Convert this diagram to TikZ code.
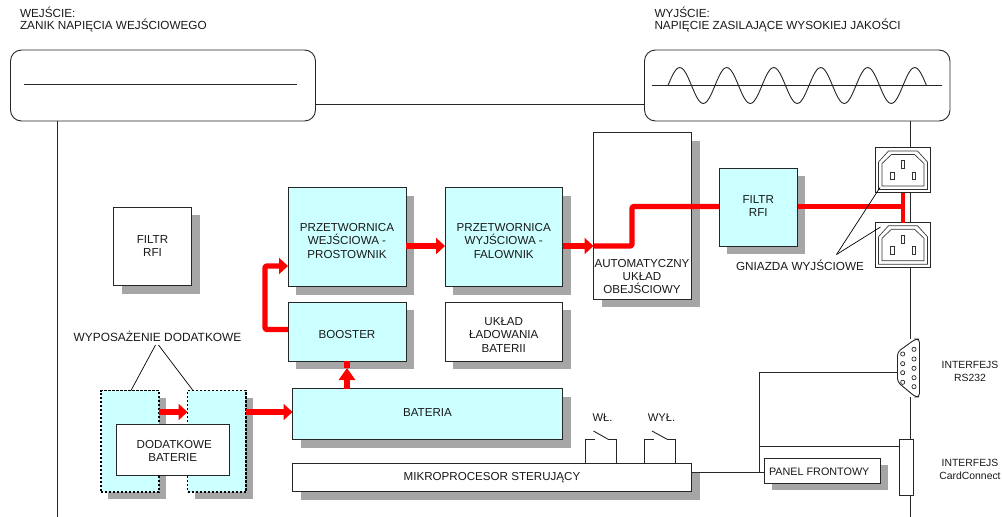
\documentclass[tikz,border=0pt]{standalone}
\usepackage{fontspec}
\setmainfont{Liberation Sans}
\usetikzlibrary{arrows.meta,shadows,calc}
\definecolor{cy}{HTML}{CCFFFF}
\definecolor{shd}{HTML}{A6A6A6}
\definecolor{rd}{HTML}{FF0000}
\tikzset{
  txt/.style={font=\fontsize{11.6}{13.4}\selectfont,align=center,inner sep=0pt,outer sep=0pt,text=black!90},
  txts/.style={txt,font=\fontsize{11.75}{13.4}\selectfont},
  thin line/.style={draw=black!85,line width=0.9pt},
  bx/.style={rectangle,draw=black!85,line width=0.9pt,inner sep=0pt,outer sep=0pt,anchor=center,fill=white},
  shad/.style={general shadow={fill=shd,shadow xshift=#1pt,shadow yshift=-#1pt}},
  cyb/.style={bx,fill=cy},
  dashb/.style={cyb,draw=black,line width=1.3pt,dash pattern=on 2.4pt off 1.6pt},
  rndb/.style={bx,rounded corners=11pt},
  redl/.style={draw=rd,line width=5.4pt,line join=round,rounded corners=2pt},
  reda/.style={redl,-{Triangle[length=9pt,width=16pt]}},
}
% name, style, x1,y1,x2,y2, text dy, text
\newcommand{\bxn}[8]{%
  \pgfmathsetmacro{\cxx}{(#3+#5)/2}\pgfmathsetmacro{\cyy}{(#4+#6)/2}%
  \pgfmathsetmacro{\wdd}{#5-#3}\pgfmathsetmacro{\htt}{#6-#4}%
  \node[#2,minimum width=\wdd pt,minimum height=\htt pt,label={[txt,yshift=-#7pt]center:{#8}}] (#1) at (\cxx,\cyy) {};}
\newcommand{\sockpic}[1]{%
  \begin{scope}[shift={(#1)},line width=0.65pt,draw=black!80]
    \draw (-24.5,-8) -- (-14.5,-19) -- (14.5,-19) -- (24.5,-8) -- (24.5,19.5) -- (-24.5,19.5) -- cycle;
    \draw (-21,-6.5) -- (-11.5,-15.5) -- (11.5,-15.5) -- (21,-6.5) -- (21,16) -- (-21,16) -- cycle;
    \draw (-1.7,-9.8) rectangle (1.7,-1.5);
    \draw (-12.3,1.9) rectangle (-9,9.5);
    \draw (9.3,1.9) rectangle (12.7,9.5);
  \end{scope}}
\begin{document}
\begin{tikzpicture}[x=1pt,y=-1pt]
\useasboundingbox (0,0) rectangle (1002,517);
% header texts
\node[txts,anchor=north west,align=left,font=\fontsize{11.75}{12.8}\selectfont] (hin) at (20,6.5) {WEJŚCIE:\\ZANIK NAPIĘCIA WEJŚCIOWEGO};
\node[txts,anchor=north west,align=left,font=\fontsize{11.75}{12.8}\selectfont] (hout) at (654.5,6.5) {WYJŚCIE:\\NAPIĘCIE ZASILAJĄCE WYSOKIEJ JAKOŚCI};
% input/output boxes
\bxn{inb}{rndb}{10.5}{50}{315.5}{121}{0}{}
\bxn{outb}{rndb}{644.5}{50}{950}{121}{0}{}
\coordinate (inl1) at (24,84.5);
\coordinate (inl2) at (297,84.5);
\draw[thin line] (inl1) -- (inl2);
\coordinate (outl1) at (652,85.5);
\coordinate (outl2) at (942,85.5);
\draw[thin line] (outl1) -- (outl2);
\draw[thin line,smooth] plot[domain=0:5.5,samples=133] ({668+47*\x},{85.5-18*sin(360*\x)});
% main blocks
\bxn{rfil}{bx,shad=8}{113.5}{207}{191.5}{285.5}{0}{FILTR\\RFI}
\bxn{auto}{bx,shad=8}{593.5}{132.5}{691.5}{299}{0}{}
\node[txt] (autot) at (642,276.5) {AUTOMATYCZNY\\UKŁAD\\OBEJŚCIOWY};
\bxn{rfir}{cyb,shad=7.5}{719}{168}{797.5}{246.5}{-1.5}{FILTR\\RFI}
\bxn{pin}{cyb,shad=8}{288}{187.5}{406}{286.5}{4}{PRZETWORNICA\\WEJŚCIOWA -\\PROSTOWNIK}
\bxn{pout}{cyb,shad=8}{445}{187.5}{562.5}{286.5}{4}{PRZETWORNICA\\WYJŚCIOWA -\\FALOWNIK}
\bxn{boost}{cyb,shad=8}{288}{302}{406}{361}{3.5}{BOOSTER}
\bxn{chg}{bx,shad=8}{445}{302}{562.5}{361}{3.5}{UKŁAD\\ŁADOWANIA\\BATERII}
\bxn{bat}{cyb,shad=8}{292.5}{388.5}{562.5}{439.5}{-1}{BATERIA}
\bxn{mcu}{bx,shad=8}{292.5}{463.5}{691.5}{491.5}{0}{MIKROPROCESOR STERUJĄCY}
\bxn{ext1}{dashb,shad=7}{101}{390.5}{159}{492}{0}{}
\bxn{ext2}{dashb,shad=7}{187.5}{390.5}{246}{492}{0}{}
\bxn{extt}{bx}{116}{424}{229.5}{475}{1.5}{\hspace*{3pt}DODATKOWE\\BATERIE}
\bxn{panel}{bx,shad=7}{764.5}{458}{880.5}{483}{0}{}
\node[txts,anchor=west,font=\fontsize{10.8}{13}\selectfont] (panelt) at (769,472) {PANEL FRONTOWY};
\bxn{card}{bx}{899.5}{439}{913.5}{495.5}{0}{}
% sockets
\bxn{s1}{bx}{875.5}{147.5}{930.5}{192.5}{0}{}
\sockpic{s1.center}
\bxn{s2}{bx}{875.5}{222.5}{930.5}{267}{0}{}
\sockpic{s2.center}
% DB9
\node[rectangle,minimum width=22pt,minimum height=58pt,inner sep=0pt] (db9) at (908.5,368) {};
\begin{scope}[shift={(db9.center)}]
  \draw[thin line,fill=white,rounded corners=3.5pt] (-11,-16) -- (7,-29) -- (11,-29) -- (11,29) -- (7,29) -- (-11,14) -- cycle;
  \foreach \yy in {-18.7,-9,0.3,9.7,18.7} \draw[black!85,line width=0.7pt] (5.5,\yy) circle (2.1);
  \foreach \yy in {-14,-4.3,4.7,14.3} \draw[black!85,line width=0.7pt] (-5.8,\yy) circle (2.1);
\end{scope}
% free ends and junctions
\coordinate (lb) at (57.5,517);
\coordinate (rb) at (910.5,517);
\coordinate (vt) at (759.5,372);
\coordinate (vb) at (759.5,472);
\coordinate (vm) at (759.5,446);
% thin connectors
\draw[thin line] (inb.south -| lb) -- (lb);
\draw[thin line] (inb.east |- 0,104.5) -- (outb.west |- 0,104.5);
\draw[thin line] (outb.south -| rb) -- (s1.north -| rb);
\draw[thin line] (s1.south -| rb) -- (s2.north -| rb);
\draw[thin line] (s2.south -| rb) -- (rb |- db9.north);
\draw[thin line] (rb |- db9.south) -- (card.north -| rb);
\draw[thin line] (card.south -| rb) -- (rb);
\draw[thin line] (mcu.east |- vb) -- (panel.west |- vb);
\draw[thin line] (vb) -- (vt) -- (db9.west |- vt);
\draw[thin line] (vm) -- (card.west |- vm);
% switches
\coordinate (sw1a) at (593.5,431);
\coordinate (sw1b) at (608.5,439.5);
\coordinate (sw2a) at (652,431);
\coordinate (sw2b) at (667.5,439.5);
\draw[thin line] (585.5,463.5 |- mcu.north) -- (585.5,439.5) -- (595,439.5);
\draw[thin line] (sw1a) -- (sw1b) -- (616.5,439.5) -- (616.5,463.5 |- mcu.north);
\draw[thin line] (644.5,463.5 |- mcu.north) -- (644.5,439.5) -- (653.5,439.5);
\draw[thin line] (sw2a) -- (sw2b) -- (675.5,439.5) -- (675.5,463.5 |- mcu.north);
\node[txts,font=\fontsize{11.2}{13}\selectfont] (won) at (602.5,418) {WŁ.};
\node[txts,font=\fontsize{11.2}{13}\selectfont] (woff) at (661.5,418) {WYŁ.};
% red power paths
\draw[reda] (pin.east |- 0,246) -- (pout.west |- 0,246);
\draw[reda] (pout.east |- 0,246) -- (auto.west |- 0,246);
\draw[redl] (auto.west |- 0,246) -- (632,246) -- (632,206.5) -- (rfir.west |- 0,206.5);
\draw[redl] (rfir.east |- 0,206.5) -- (s1.south |- 0,206.5);
\draw[redl,line width=4pt] (s1.south) -- (s2.north);
\draw[reda,line width=5.4pt] (boost.west |- 0,329.5) -- (265,329.5) -- (265,266) -- (pin.west |- 0,266);
\coordinate (btip) at (347,368);
\draw[redl,-{Triangle[length=12pt,width=16pt]}] (bat.north -| btip) -- (btip);
\draw[redl] (btip) -- (boost.south -| btip);
\draw[reda] (ext1.east |- 0,412) -- (ext2.west |- 0,412);
\draw[reda] (ext2.east |- 0,412) -- (bat.west |- 0,412);
% labels
\node[txts] (gn) at (800,265.5) {GNIAZDA WYJŚCIOWE};
\coordinate (gnp) at (836.5,254.5);
\draw[line width=0.7pt] (gnp) -- (880,187.5);
\draw[line width=0.7pt] (gnp) -- (880.5,227);
\node[txts,font=\fontsize{11.9}{13.4}\selectfont] (wd) at (157.5,336.5) {WYPOSAŻENIE DODATKOWE};
\draw[line width=0.7pt] (155.5,345) -- (ext1.north -| 131,0);
\draw[line width=0.7pt] (158.5,345) -- (ext2.north -| 193,0);
\node[txts,font=\fontsize{10.4}{12.7}\selectfont] (i1) at (970,371.5) {INTERFEJS\\RS232};
\node[txts,font=\fontsize{10.4}{12.7}\selectfont] (i2) at (970,469.5) {INTERFEJS\\CardConnect};
\end{tikzpicture}
\end{document}
